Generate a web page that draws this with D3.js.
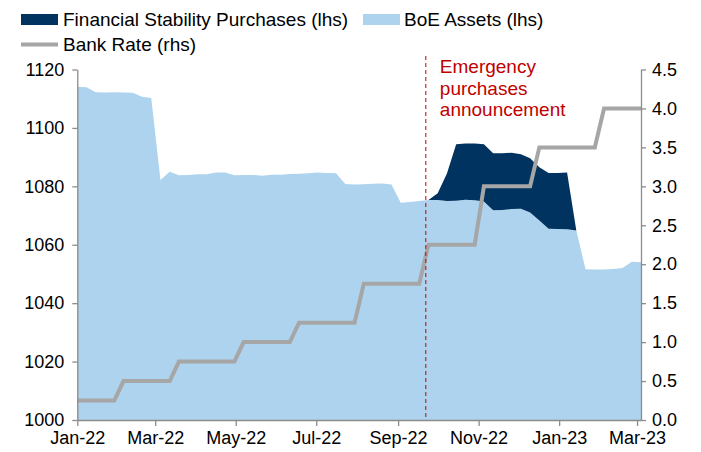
<!DOCTYPE html>
<html>
<head>
<meta charset="utf-8">
<script src="https://cdn.jsdelivr.net/npm/d3@7"></script>
<style>
  html, body { margin: 0; padding: 0; background: #fff; }
  svg { display: block; font-family: "Liberation Sans", Arial, sans-serif; }
</style>
</head>
<body>
<svg id="chart" width="701" height="452"></svg>
<script>
// Weekly observations (Wednesdays)
const weeks = [
  "2022-01-05","2022-01-12","2022-01-19","2022-01-26","2022-02-02","2022-02-09","2022-02-16","2022-02-23",
  "2022-03-02","2022-03-09","2022-03-16","2022-03-23","2022-03-30","2022-04-06","2022-04-13","2022-04-20",
  "2022-04-27","2022-05-04","2022-05-11","2022-05-18","2022-05-25","2022-06-01","2022-06-08","2022-06-15",
  "2022-06-22","2022-06-29","2022-07-06","2022-07-13","2022-07-20","2022-07-27","2022-08-03","2022-08-10",
  "2022-08-17","2022-08-24","2022-08-31","2022-09-07","2022-09-14","2022-09-21","2022-09-28","2022-10-05",
  "2022-10-12","2022-10-19","2022-10-26","2022-11-02","2022-11-09","2022-11-16","2022-11-23","2022-11-30",
  "2022-12-07","2022-12-14","2022-12-21","2022-12-28","2023-01-04","2023-01-11","2023-01-18","2023-01-25",
  "2023-02-01","2023-02-08","2023-02-15","2023-02-22","2023-03-01","2023-03-08"
];

// BoE assets excluding financial stability purchases (£bn, lhs)
const boeAssets = [
  1114.1, 1113.9, 1112.2, 1112.1, 1112.2, 1112.1, 1112.0, 1110.7,
  1110.2, 1082.2, 1085.0, 1083.8, 1083.9, 1084.1, 1084.1, 1084.7,
  1084.7, 1083.8, 1083.9, 1083.9, 1083.6, 1084.0, 1084.0, 1084.2,
  1084.3, 1084.5, 1084.7, 1084.6, 1084.5, 1080.8, 1080.6, 1080.7,
  1080.9, 1081.0, 1080.6, 1074.4, 1074.6, 1075.0, 1075.3, 1075.3,
  1075.0, 1075.1, 1075.4, 1075.2, 1074.8, 1071.8, 1071.9, 1072.2,
  1072.3, 1071.0, 1068.3, 1065.5, 1065.4, 1065.3, 1064.9, 1051.6,
  1051.5, 1051.5, 1051.7, 1052.0, 1054.2, 1054.0
];

// Financial stability purchases stacked on top (£bn, lhs)
const fsPurchases = [
  0, 0, 0, 0, 0, 0, 0, 0,
  0, 0, 0, 0, 0, 0, 0, 0,
  0, 0, 0, 0, 0, 0, 0, 0,
  0, 0, 0, 0, 0, 0, 0, 0,
  0, 0, 0, 0, 0, 0, 0, 2.3,
  9.4, 19.3, 19.3, 19.5, 19.6, 19.5, 19.4, 19.3,
  18.7, 18.6, 18.2, 19.1, 19.2, 19.4, 0, 0,
  0, 0, 0, 0, 0, 0
];

// Bank Rate (%, rhs)
const bankRate = [
  0.25, 0.25, 0.25, 0.25, 0.25, 0.5, 0.5, 0.5,
  0.5, 0.5, 0.5, 0.75, 0.75, 0.75, 0.75, 0.75,
  0.75, 0.75, 1.0, 1.0, 1.0, 1.0, 1.0, 1.0,
  1.25, 1.25, 1.25, 1.25, 1.25, 1.25, 1.25, 1.75,
  1.75, 1.75, 1.75, 1.75, 1.75, 1.75, 2.25, 2.25,
  2.25, 2.25, 2.25, 2.25, 3.0, 3.0, 3.0, 3.0,
  3.0, 3.0, 3.5, 3.5, 3.5, 3.5, 3.5, 3.5,
  3.5, 4.0, 4.0, 4.0, 4.0, 4.0
];

const xTickDates = ["2022-01-05","2022-03-05","2022-05-05","2022-07-05","2022-09-05","2022-11-05","2023-01-05","2023-03-05"];
const xTickLabels = ["Jan-22","Mar-22","May-22","Jul-22","Sep-22","Nov-22","Jan-23","Mar-23"];
const leftTicks = [1000, 1020, 1040, 1060, 1080, 1100, 1120];
const rightTicks = [0.0, 0.5, 1.0, 1.5, 2.0, 2.5, 3.0, 3.5, 4.0, 4.5];

const announcementDate = "2022-09-26";
const announcementText = ["Emergency", "purchases", "announcement"];
const legendLabels = ["Financial Stability Purchases (lhs)", "BoE Assets (lhs)", "Bank Rate (rhs)"];

const colors = { fsp: "#00335f", boe: "#aed3ef", rate: "#a6a6a6", axis: "#8c8c8c", note: "#c00000" };

const parse = d3.utcParse("%Y-%m-%d");
const data = weeks.map((w, i) => ({
  date: parse(w),
  boe: boeAssets[i],
  total: boeAssets[i] + fsPurchases[i],
  rate: bankRate[i]
}));

const plot = { left: 77.3, right: 641, top: 69.5, bottom: 420 };

const x = d3.scaleUtc()
  .domain([parse(weeks[0]), parse(weeks[weeks.length - 1])])
  .range([plot.left, plot.right]);
const yL = d3.scaleLinear().domain([1000, 1120]).range([plot.bottom, plot.top]);
const yR = d3.scaleLinear().domain([0, 4.5]).range([plot.bottom, plot.top]);

const svg = d3.select("#chart");

// Stacked areas
svg.append("path")
  .datum(data)
  .attr("fill", colors.boe)
  .attr("d", d3.area().x(d => x(d.date)).y0(yL(1000)).y1(d => yL(d.boe)));

svg.append("path")
  .datum(data)
  .attr("fill", colors.fsp)
  .attr("d", d3.area().x(d => x(d.date)).y0(d => yL(d.boe)).y1(d => yL(d.total)));

// Bank Rate line
svg.append("path")
  .datum(data)
  .attr("fill", "none")
  .attr("stroke", colors.rate)
  .attr("stroke-width", 4)
  .attr("stroke-linejoin", "miter")
  .attr("d", d3.line().x(d => x(d.date)).y(d => yR(d.rate)));

// Announcement marker
const ax = x(parse(announcementDate));
svg.append("line")
  .attr("x1", ax).attr("x2", ax)
  .attr("y1", 56).attr("y2", plot.bottom)
  .attr("stroke", colors.note)
  .attr("stroke-width", 1)
  .attr("stroke-dasharray", "4,3");

svg.append("g")
  .selectAll("text")
  .data(announcementText)
  .join("text")
  .attr("x", ax + 14)
  .attr("y", (d, i) => 73 + i * 21.5)
  .attr("fill", colors.note)
  .attr("font-size", 19)
  .text(d => d);

// Axes
const axisStyle = g => {
  g.selectAll(".domain").attr("stroke", colors.axis).attr("stroke-width", 1.3);
  g.selectAll(".tick line").attr("stroke", colors.axis).attr("stroke-width", 1.3);
  g.selectAll(".tick text").attr("fill", "#000").attr("font-size", 18)
    .attr("font-family", "'Liberation Sans', Arial, sans-serif");
};

svg.append("g")
  .attr("transform", `translate(${plot.left},0)`)
  .call(d3.axisLeft(yL).tickValues(leftTicks).tickSize(5).tickSizeOuter(0).tickPadding(8)
    .tickFormat(d3.format("d")))
  .call(axisStyle);

svg.append("g")
  .attr("transform", `translate(${plot.right},0)`)
  .call(d3.axisRight(yR).tickValues(rightTicks).tickSize(5).tickSizeOuter(0).tickPadding(6)
    .tickFormat(d3.format(".1f")))
  .call(axisStyle);

svg.append("g")
  .attr("transform", `translate(0,${plot.bottom})`)
  .call(d3.axisBottom(x).tickValues(xTickDates.map(parse)).tickSize(6).tickSizeOuter(0).tickPadding(5)
    .tickFormat((d, i) => xTickLabels[i]))
  .call(axisStyle);

// Legend
const legend = svg.append("g").attr("font-size", 19).attr("fill", "#000");
legend.append("rect").attr("x", 21).attr("y", 14).attr("width", 37).attr("height", 11).attr("fill", colors.fsp);
legend.append("text").attr("x", 63).attr("y", 26).text(legendLabels[0]);
legend.append("rect").attr("x", 363).attr("y", 14).attr("width", 37).attr("height", 11).attr("fill", colors.boe);
legend.append("text").attr("x", 404).attr("y", 26).text(legendLabels[1]);
legend.append("line").attr("x1", 21).attr("x2", 58).attr("y1", 44.5).attr("y2", 44.5)
  .attr("stroke", colors.rate).attr("stroke-width", 4);
legend.append("text").attr("x", 63).attr("y", 51).text(legendLabels[2]);
</script>
</body>
</html>
